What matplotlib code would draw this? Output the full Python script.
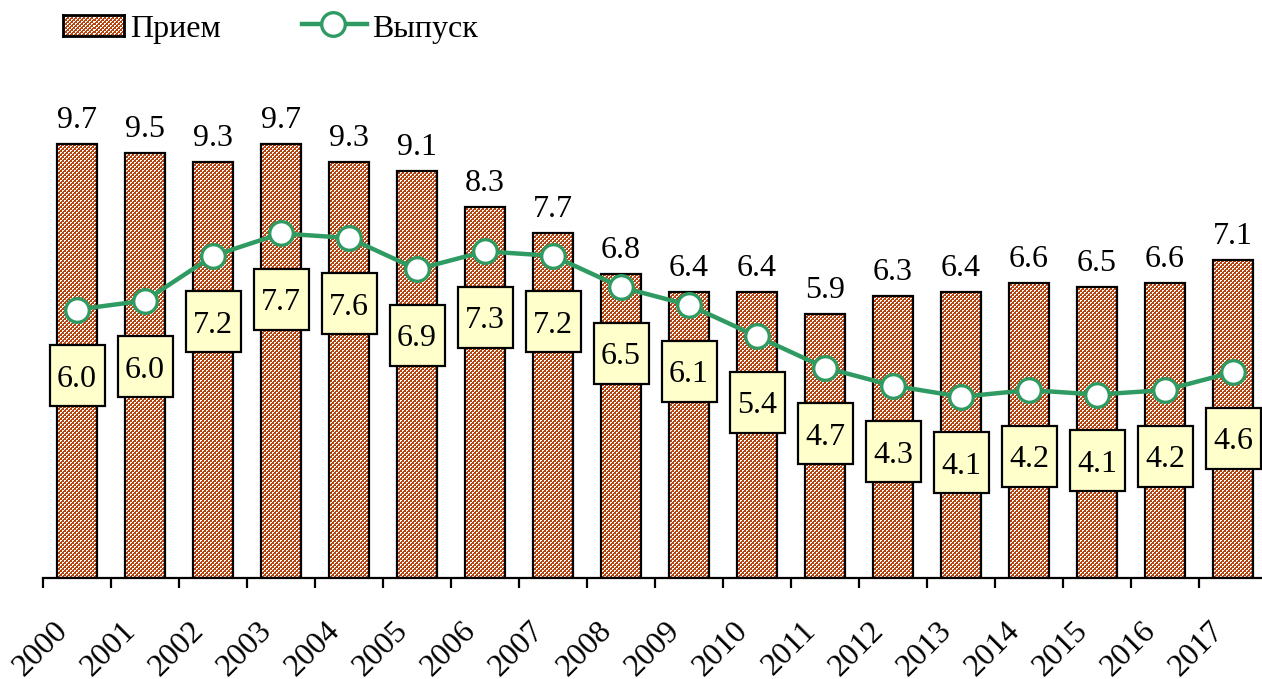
import numpy as np
import matplotlib
matplotlib.use("Agg")
import matplotlib.pyplot as plt
from matplotlib.patches import Rectangle
from matplotlib.path import Path
from matplotlib.patches import PathPatch
from matplotlib.lines import Line2D
from matplotlib.transforms import ScaledTranslation

years = ["2000", "2001", "2002", "2003", "2004", "2005", "2006", "2007", "2008",
         "2009", "2010", "2011", "2012", "2013", "2014", "2015", "2016", "2017"]
priem = [9.7, 9.5, 9.3, 9.7, 9.3, 9.1, 8.3, 7.7, 6.8, 6.4, 6.4, 5.9, 6.3, 6.4, 6.6, 6.5, 6.6, 7.1]
vypusk = [6.0, 6.2, 7.2, 7.7, 7.6, 6.9, 7.3, 7.2, 6.5, 6.1, 5.4, 4.7, 4.3, 4.05, 4.2, 4.1, 4.2, 4.6]
vypusk_labels = ["6.0", "6.0", "7.2", "7.7", "7.6", "6.9", "7.3", "7.2", "6.5",
                 "6.1", "5.4", "4.7", "4.3", "4.1", "4.2", "4.1", "4.2", "4.6"]
legend_labels = ["Прием", "Выпуск"]

FONT = "Liberation Serif"
FS = 23
BROWN = "#B8440F"
GREEN = "#2F9B63"
BOXFILL = "#FFFFCC"

W, H = 1262, 679
fig = plt.figure(figsize=(W / 100, H / 100), dpi=100)
ax_left, ax_bottom = 43 / W, 1 - 578 / H
ax_w, ax_h = 1220.6 / W, 469.8 / H
ax = fig.add_axes([ax_left, ax_bottom, ax_w, ax_h])
ax.set_facecolor("none")
XL = (-0.5, 17.45)
YL = (0, 10.5)

x = np.arange(len(years))


def checker(h, w, cell=2):
    yy, xx = np.mgrid[0:h, 0:w]
    brown = ((yy // cell + xx // cell) % 2).astype(bool)
    # white cells keep one brown pixel to deepen the texture
    brown |= ((yy % cell == cell - 1) & (xx % cell == cell - 1))
    img = np.ones((h, w, 3))
    img[brown] = np.array(matplotlib.colors.to_rgb(BROWN))
    return img


ax.set_xlim(*XL)
ax.set_ylim(*YL)

bars = ax.bar(x, priem, width=0.6, facecolor="none", edgecolor="black",
              linewidth=1.6, zorder=3)
paths = []
for b in bars:
    bx, by = b.get_x(), b.get_y()
    bw, bh = b.get_width(), b.get_height()
    paths.append(Path([(bx, by), (bx + bw, by), (bx + bw, by + bh), (bx, by + bh), (bx, by)],
                      [Path.MOVETO, Path.LINETO, Path.LINETO, Path.LINETO, Path.CLOSEPOLY]))
comp = Path.make_compound_path(*paths)
clip = PathPatch(comp, transform=ax.transData, facecolor="none", edgecolor="none")
fim = fig.figimage(checker(H, W, cell=2), xo=0, yo=0, zorder=-1)
fim.set_clip_path(clip)

ax.plot(x, vypusk, color=GREEN, linewidth=3.2, marker="o", markersize=17,
        markerfacecolor="white", markeredgecolor=GREEN, markeredgewidth=2.4, zorder=4)

for xi, v in zip(x, priem):
    ax.annotate(f"{v:.1f}", xy=(xi, v), xytext=(0, 16), textcoords="offset pixels",
                ha="center", va="baseline", fontsize=FS, family=FONT, zorder=6)

BW, BH, OFF = 0.55, 0.61, 0.66
for xi, v, lab in zip(x, vypusk, vypusk_labels):
    tr = fig.dpi_scale_trans + ScaledTranslation(xi, v, ax.transData)
    r = Rectangle((-BW / 2, -OFF - BH / 2), BW, BH, transform=tr, facecolor=BOXFILL,
                  edgecolor="black", linewidth=1.6, zorder=7, clip_on=False)
    ax.add_patch(r)
    ax.text(0, -OFF - 0.11, lab, transform=tr, ha="center", va="baseline",
            fontsize=FS, family=FONT, zorder=8)

for s in ["left", "right", "top"]:
    ax.spines[s].set_visible(False)
ax.spines["bottom"].set_linewidth(1.6)
ax.set_yticks([])
ax.set_xticks(np.arange(-0.5, 17.0, 1.0))
ax.set_xticklabels([])
ax.tick_params(axis="x", direction="out", length=7, width=1.6)

for xi, yr in zip(x, years):
    ax.annotate(yr, xy=(xi, 0), xycoords="data", xytext=(-24, -38), textcoords="offset pixels",
                rotation=45, ha="right", va="top", rotation_mode="anchor",
                fontsize=FS, family=FONT, annotation_clip=False)

lax = fig.add_axes([63 / W, 1 - 36 / H, 61 / W, 21 / H])
lax.imshow(checker(21, 61, cell=2), aspect="auto", interpolation="nearest")
lax.set_xticks([]); lax.set_yticks([])
for s in lax.spines.values():
    s.set_linewidth(2.0)
fig.text(130 / W, 1 - 37 / H, legend_labels[0], fontsize=FS, family=FONT, va="baseline", ha="left")
fig.add_artist(Line2D([302 / W, 367 / W], [1 - 24 / H, 1 - 24 / H], color=GREEN, linewidth=3.2,
                      transform=fig.transFigure))
fig.add_artist(Line2D([333 / W], [1 - 24 / H], marker="o", markersize=17, markerfacecolor="white",
                      markeredgecolor=GREEN, markeredgewidth=2.4, linestyle="none",
                      transform=fig.transFigure))
fig.text(372 / W, 1 - 37 / H, legend_labels[1], fontsize=FS, family=FONT, va="baseline", ha="left")

fig.savefig("out.png", dpi=100)
